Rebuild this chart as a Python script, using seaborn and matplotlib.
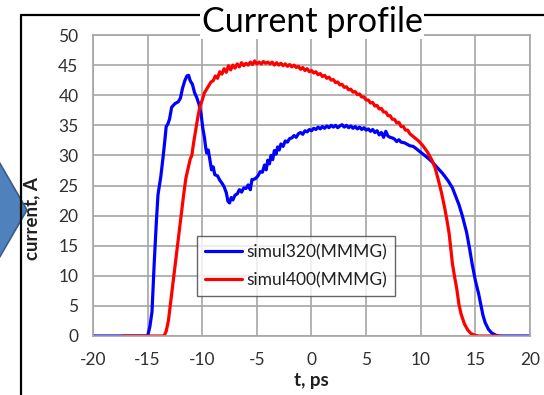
import numpy as np
import pandas as pd
import seaborn as sns
import matplotlib
matplotlib.use("Agg")
import matplotlib.pyplot as plt
from matplotlib.lines import Line2D
from matplotlib.patches import Polygon

# ---- data: current profiles (t in ps, current in A) ----
t_320 = [-20, -15.0, -14.8, -14.6, -14.4, -14.2, -14.05, -13.8, -13.6, -13.45, -13.3, -13.15,
         -13.0, -12.8, -12.5, -12.2, -12.0, -11.8, -11.6, -11.4, -11.25, -11.1, -10.9, -10.7,
         -10.5, -10.3, -10.1, -9.95, -9.8, -9.7, -9.6, -9.45, -9.3, -9.15, -9.0, -8.85, -8.6,
         -8.4, -8.2, -8.0, -7.8, -7.65, -7.5, -7.35, -7.2, -7.0, -6.8, -6.6, -6.4, -6.2, -6.0,
         -5.8, -5.6, -5.45, -5.3, -5.1, -4.9, -4.7, -4.5, -4.3, -4.15, -4.0, -3.85, -3.7,
         -3.55, -3.4, -3.25, -3.1, -2.95, -2.8, -2.6, -2.4, -2.2, -2.0, -1.8, -1.6, -1.4,
         -1.2, -1.0, -0.8, -0.6, -0.4, -0.2, 0.0, 0.2, 0.4, 0.6, 0.8, 1.0, 1.2, 1.4, 1.6, 1.8,
         2.0, 2.2, 2.4, 2.6, 2.8, 3.0, 3.2, 3.4, 3.6, 3.8, 4.0, 4.2, 4.4, 4.6, 4.8, 5.0, 5.2,
         5.4, 5.6, 5.8, 6.0, 6.2, 6.4, 6.6, 6.8, 7.0, 7.2, 7.4, 7.6, 7.8, 8.0, 8.2, 8.5, 8.8,
         9.0, 9.3, 9.6, 10.0, 10.5, 11.0, 11.5, 12.0, 12.5, 12.9, 13.2, 13.5, 13.8, 14.0, 14.2,
         14.5, 14.7, 15.0, 15.3, 15.5, 15.7, 15.9, 16.2, 16.5, 16.9, 17.2, 20]
i_320 = [0, 0, 1.5, 4.0, 12.0, 19.0, 23.5, 26.4, 29.5, 32.0, 34.8, 35.2,
         36.0, 38.0, 38.6, 38.9, 39.5, 41.2, 42.4, 43.2, 43.3, 42.4, 41.8, 40.4,
         39.6, 38.5, 36.8, 34.5, 33.0, 31.5, 30.4, 30.9, 29.2, 27.6, 28.1, 26.8, 26.6,
         25.9, 25.4, 24.8, 23.8, 22.4, 22.1, 23.0, 22.6, 23.4, 23.6, 24.3, 23.9, 24.6, 24.5,
         25.1, 24.3, 26.0, 26.0, 26.2, 26.6, 27.3, 27.2, 28.4, 27.6, 29.2, 28.6, 30.0,
         29.3, 30.8, 30.2, 31.4, 30.9, 31.9, 31.5, 32.4, 32.2, 32.8, 32.9, 33.3, 33.0,
         33.6, 33.8, 33.5, 34.1, 33.9, 34.3, 34.1, 34.5, 34.3, 34.7, 34.4, 34.8, 34.5, 34.9,
         34.6, 35.0, 34.7, 35.0, 34.6, 34.9, 35.1, 34.7, 35.0, 34.6, 34.9, 34.5, 34.8, 34.4,
         34.7, 34.3, 34.6, 34.2, 34.4, 34.0, 34.3, 33.8, 34.1, 33.4, 33.8, 33.0, 34.0, 33.2,
         33.0, 32.9, 32.7, 32.3, 32.6, 32.2, 32.1, 31.8, 31.6, 31.5, 31.1, 30.5, 29.8, 29.0,
         28.0, 27.0, 25.8, 24.6, 23.2, 21.8, 20.0, 18.6, 17.2, 14.2, 12.0, 9.2, 7.0, 5.2, 3.4,
         2.2, 1.1, 0.5, 0.1, 0, 0]

t_400 = [-17.3, -13.5, -13.3, -13.1, -12.9, -12.7, -12.5, -12.3, -12.1, -11.9, -11.7, -11.5,
         -11.3, -11.1, -10.95, -10.8, -10.6, -10.4, -10.2, -10.0, -9.8, -9.6, -9.4, -9.2,
         -9.0, -8.8, -8.6, -8.4, -8.2, -8.0, -7.8, -7.6, -7.4, -7.2, -7.0, -6.8, -6.6, -6.4,
         -6.2, -6.0, -5.8, -5.6, -5.4, -5.2, -5.0, -4.8, -4.6, -4.4, -4.2, -4.0, -3.8, -3.6,
         -3.4, -3.2, -3.0, -2.8, -2.6, -2.4, -2.2, -2.0, -1.8, -1.6, -1.4, -1.2, -1.0, -0.8,
         -0.6, -0.4, -0.2, 0.0, 0.2, 0.4, 0.6, 0.8, 1.0, 1.2, 1.4, 1.6, 1.8, 2.0, 2.2, 2.4,
         2.6, 2.8, 3.0, 3.2, 3.4, 3.6, 3.8, 4.0, 4.2, 4.4, 4.6, 4.8, 5.0, 5.2, 5.4, 5.6, 5.8,
         6.0, 6.2, 6.4, 6.6, 6.8, 7.0, 7.2, 7.4, 7.6, 7.8, 8.0, 8.2, 8.4, 8.6, 8.8, 9.0, 9.4,
         9.8, 10.2, 10.6, 11.0, 11.3, 11.6, 11.9, 12.2, 12.4, 12.6, 12.75, 12.9, 13.1, 13.3,
         13.5, 13.7, 14.0, 14.3, 14.6, 15.0, 15.3, 17.2]
i_400 = [0, 0, 0.8, 2.5, 5.5, 8.5, 11.5, 14.5, 17.5, 20.5, 23.5, 26.2,
         27.8, 29.4, 30.0, 32.0, 34.2, 36.4, 38.2, 39.2, 40.4, 41.0, 41.6, 42.2,
         42.4, 43.2, 42.8, 43.9, 43.5, 44.4, 43.8, 44.9, 44.2, 45.0, 44.5, 45.2, 44.7, 45.4,
         44.9, 45.3, 45.0, 45.5, 45.1, 45.7, 45.2, 45.5, 45.2, 45.6, 45.3, 45.5, 45.2, 45.5,
         45.0, 45.4, 45.0, 45.3, 44.9, 45.2, 44.8, 45.1, 44.7, 45.0, 44.6, 44.8, 44.3, 44.6,
         44.1, 44.4, 43.9, 44.1, 43.7, 43.9, 43.4, 43.6, 43.1, 43.3, 42.8, 43.0, 42.5, 42.6,
         42.1, 42.2, 41.7, 41.8, 41.3, 41.4, 40.9, 41.0, 40.5, 40.6, 40.1, 40.2, 39.7, 39.7,
         39.2, 39.2, 38.7, 38.8, 38.2, 38.3, 37.7, 37.8, 37.2, 37.2, 36.6, 36.6, 36.0, 36.0,
         35.4, 35.5, 34.8, 34.8, 34.2, 34.2, 33.6, 33.0, 32.4, 31.6, 30.6, 29.3, 28.0, 26.0,
         23.8, 21.2, 19.2, 17.0, 14.5, 12.0, 9.8, 7.8, 5.2, 3.6, 2.0, 1.0, 0.4, 0.1, 0, 0]

series_names = ["simul320(MMMG)", "simul400(MMMG)"]
series_colors = ["#0000FF", "#FF0000"]
x_ticks = [-20, -15, -10, -5, 0, 5, 10, 15, 20]
y_ticks = [0, 5, 10, 15, 20, 25, 30, 35, 40, 45, 50]

df = pd.concat([
    pd.DataFrame({"t": t_320, "current": i_320, "series": series_names[0]}),
    pd.DataFrame({"t": t_400, "current": i_400, "series": series_names[1]}),
], ignore_index=True)

sns.set_theme(style="white")
plt.rcParams["font.family"] = ["Lato", "DejaVu Sans"]

W, H = 544, 395
fig = plt.figure(figsize=(W / 100, H / 100), dpi=100)
fig.patch.set_facecolor("white")


def fx(px):
    return px / W


def fy(py):
    return 1 - py / H


ax = fig.add_axes([fx(93), fy(336), fx(530) - fx(93), fy(35) - fy(336)])

sns.lineplot(data=df, x="t", y="current", hue="series", hue_order=series_names,
             palette=dict(zip(series_names, series_colors)), sort=False,
             estimator=None, linewidth=2.3, ax=ax, legend=True)

grid_c = "#A6A6A6"
ax.set_xlim(-20, 20)
ax.set_ylim(0, 50)
ax.set_xticks(x_ticks)
ax.set_yticks(y_ticks)
ax.set_xticklabels([str(v) for v in x_ticks])
ax.set_yticklabels([str(v) for v in y_ticks])
ax.grid(True, color=grid_c, linewidth=1.2)
ax.set_axisbelow(True)
for s in ax.spines.values():
    s.set_color(grid_c)
    s.set_linewidth(1.2)
ax.tick_params(axis="both", which="major", length=4.5, width=1.2, color=grid_c,
               labelsize=12.5, labelcolor="#303030", direction="out")
ax.tick_params(axis="x", pad=7)
ax.tick_params(axis="y", pad=6)
ax.set_xlabel("t, ps", fontsize=13.5, fontweight="bold", color="#202020", labelpad=3)
ax.set_ylabel("current, A", fontsize=13.5, fontweight="bold", color="#202020")
ax.yaxis.set_label_coords(-0.121, 0.39)

leg = ax.legend(loc="upper left", bbox_to_anchor=((197 - 93) / 437, (336 - 236) / 301),
                borderaxespad=0, frameon=True, fancybox=False, fontsize=12.5,
                handlelength=2.15, handletextpad=0.25, labelspacing=0.7,
                borderpad=0.45, title=None)
leg.get_frame().set_edgecolor("#404040")
leg.get_frame().set_linewidth(1.0)
for t in leg.get_texts():
    t.set_color("#202020")
for h in leg.get_lines():
    h.set_linewidth(2.3)

# slide frame around the chart
fig.add_artist(Line2D([fx(21), fx(21)], [fy(15), fy(400)], color="black", linewidth=1.6))
fig.add_artist(Line2D([fx(21), fx(560)], [fy(15), fy(15)], color="black", linewidth=1.6))

# title on a white background across the frame line
fig.text(fx(312), fy(22), "Current profile", ha="center", va="center", fontsize=24.5,
         color="black", bbox=dict(facecolor="white", edgecolor="none", pad=1.0))

# blue arrow head at the left edge
fig.add_artist(Polygon([(fx(-2), fy(160)), (fx(27), fy(210)), (fx(-2), fy(260))],
                       closed=True, facecolor="#4F81BD", edgecolor="#385D8A",
                       linewidth=1.2, transform=fig.transFigure))

fig.savefig("out.png", dpi=100)
